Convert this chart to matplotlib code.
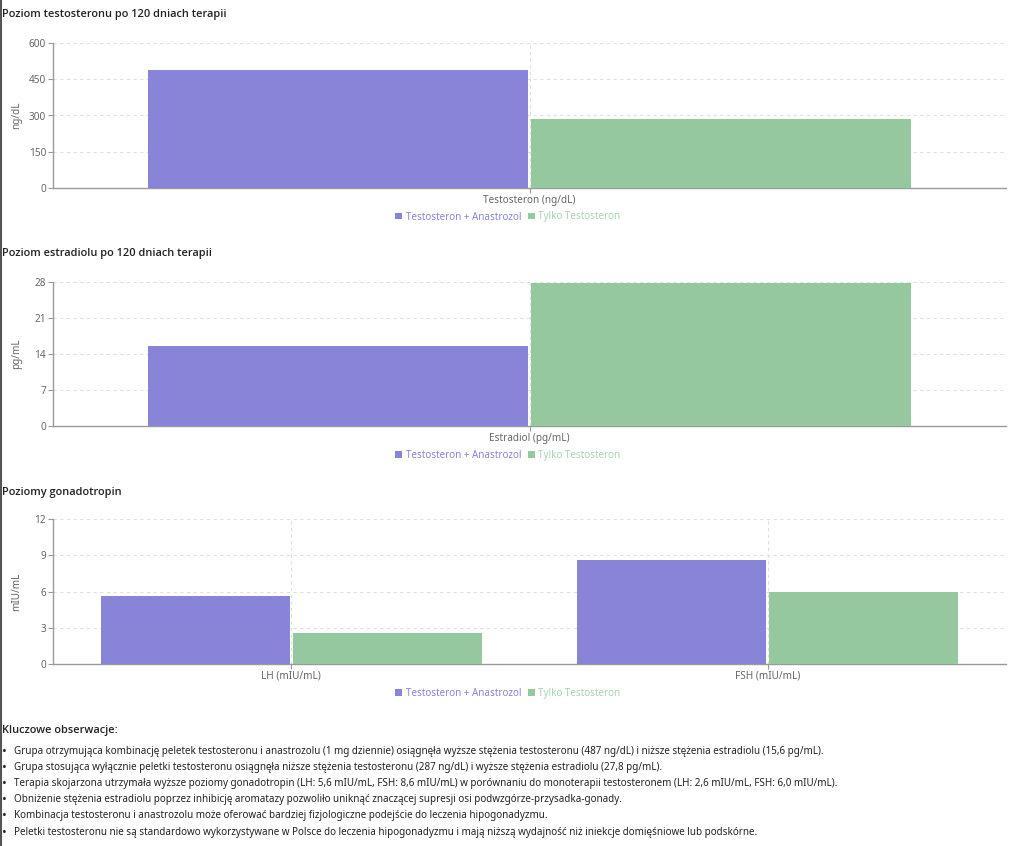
import matplotlib.pyplot as plt
from matplotlib.patches import Patch
from matplotlib.lines import Line2D
import numpy as np

plt.rcParams['font.family'] = ['Noto Sans', 'DejaVu Sans']
title_family = ['Open Sans', 'Noto Sans', 'DejaVu Sans']

# data
series_names = ['Testosteron + Anastrozol', 'Tylko Testosteron']
series_colors = ['#8884d8', '#96c8a0']
legend_text_colors = ['#8884d8', '#a6d4b0']

testo_cats = ['Testosteron (ng/dL)']
testo_combo = [487]
testo_only = [287]

estra_cats = ['Estradiol (pg/mL)']
estra_combo = [15.6]
estra_only = [27.8]

gona_cats = ['LH (mIU/mL)', 'FSH (mIU/mL)']
gona_combo = [5.6, 8.6]
gona_only = [2.6, 6.0]

charts = [
    ('Poziom testosteronu po 120 dniach terapii', 'ng/dL', testo_cats,
     testo_combo, testo_only, [0, 150, 300, 450, 600]),
    ('Poziom estradiolu po 120 dniach terapii', 'pg/mL', estra_cats,
     estra_combo, estra_only, [0, 7, 14, 21, 28]),
    ('Poziomy gonadotropin', 'mIU/mL', gona_cats,
     gona_combo, gona_only, [0, 3, 6, 9, 12]),
]

notes = [
    'Grupa otrzymująca kombinację peletek testosteronu i anastrozolu (1 mg dziennie) osiągnęła wyższe stężenia testosteronu (487 ng/dL) i niższe stężenia estradiolu (15,6 pg/mL).',
    'Grupa stosująca wyłącznie peletki testosteronu osiągnęła niższe stężenia testosteronu (287 ng/dL) i wyższe stężenia estradiolu (27,8 pg/mL).',
    'Terapia skojarzona utrzymała wyższe poziomy gonadotropin (LH: 5,6 mIU/mL, FSH: 8,6 mIU/mL) w porównaniu do monoterapii testosteronem (LH: 2,6 mIU/mL, FSH: 6,0 mIU/mL).',
    'Obniżenie stężenia estradiolu poprzez inhibicję aromatazy pozwoliło uniknąć znaczącej supresji osi podwzgórze-przysadka-gonady.',
    'Kombinacja testosteronu i anastrozolu może oferować bardziej fizjologiczne podejście do leczenia hipogonadyzmu.',
    'Peletki testosteronu nie są standardowo wykorzystywane w Polsce do leczenia hipogonadyzmu i mają niższą wydajność niż iniekcje domięśniowe lub podskórne.',
]

W, H = 1024, 846
fig = plt.figure(figsize=(W / 100, H / 100), dpi=100)

# pixel layout of each panel: (title_y, plot_top, plot_bottom, legend_y)
panels = [(14, 43, 188, 217), (253, 282, 426, 455), (492, 519, 664, 693)]
left, right = 53, 1006
grid_col = '#e0e0e0'
axis_col = '#9a9a9a'
tick_col = '#666666'

for (title, ylab, cats, combo, only, yticks), (ty, top, bot, gy) in zip(charts, panels):
    ax = fig.add_axes([left / W, 1 - bot / H, (right - left) / W, (bot - top) / H])
    n = len(cats)
    x = np.arange(n)
    band_px = (right - left) / n
    gap = 3 / band_px
    bw = (0.8 - gap) / 2
    ax.bar(x - (bw + gap) / 2, combo, width=bw, color=series_colors[0], zorder=3)
    ax.bar(x + (bw + gap) / 2, only, width=bw, color=series_colors[1], zorder=3)
    ax.set_xlim(-0.5, n - 0.5)
    ax.set_ylim(yticks[0], yticks[-1])
    ax.set_yticks(yticks)
    ax.set_xticks(x)
    ax.set_xticklabels(cats)
    for yv in yticks[1:]:
        ax.axhline(yv, color=grid_col, lw=0.8, ls=(0, (3, 3)), zorder=1)
    for xv in list(x) + [n - 0.5]:
        ax.axvline(xv, color=grid_col, lw=0.8, ls=(0, (3, 3)), zorder=1)
    for s in ['top', 'right']:
        ax.spines[s].set_visible(False)
    for s in ['left', 'bottom']:
        ax.spines[s].set_color(axis_col)
        ax.spines[s].set_linewidth(1.0)
    ax.tick_params(axis='both', colors=axis_col, labelcolor=tick_col, labelsize=7.2,
                   length=3.5, width=0.8, pad=1.5)
    ax.set_ylabel(ylab, color=tick_col, fontsize=7.2)
    ax.yaxis.set_label_coords(-31 / (right - left), 0.5)

    fig.text(2 / W, 1 - ty / H, title, fontsize=7.95, fontweight='semibold',
             family=title_family, color='#222222', va='center', ha='left')

    handles = [Patch(facecolor=c, edgecolor='none') for c in series_colors]
    fig.legend(handles, series_names, loc='center', ncol=2,
               bbox_to_anchor=(508 / W, 1 - gy / H), frameon=False, fontsize=7.1,
               handlelength=0.7, handleheight=0.7, handletextpad=0.4,
               columnspacing=0.6, labelcolor=legend_text_colors)

# notes
fig.text(2 / W, 1 - 730 / H, 'Kluczowe obserwacje:', fontsize=7.9,
         fontweight='semibold', family=title_family, color='#222222',
         va='center', ha='left')
for i, line in enumerate(notes):
    yy = 1 - (751 + i * 16.2) / H
    fig.text(2 / W, yy, '•', fontsize=9, color='#222222', va='center', ha='left')
    fig.text(14 / W, yy, line, fontsize=7.1, color='#222222', va='center', ha='left')

# left border of the page
fig.add_artist(Line2D([1 / W, 1 / W], [0, 1], color='#555555', lw=1.5))

fig.savefig('out.png', dpi=100)
